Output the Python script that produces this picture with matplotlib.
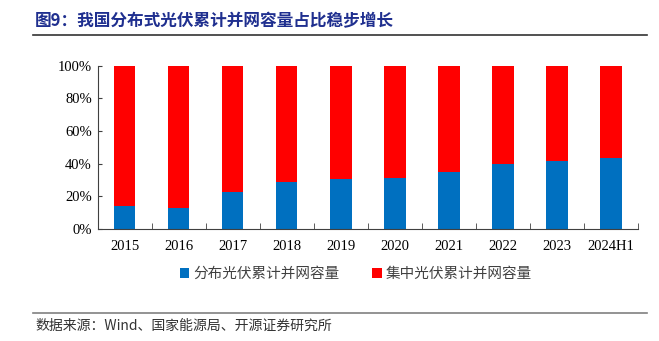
import numpy as np
import matplotlib.pyplot as plt
from matplotlib.lines import Line2D

plt.rcParams['font.family'] = ['Liberation Serif', 'Noto Sans CJK SC', 'DejaVu Sans']

# Data (share of cumulative grid-connected PV capacity, %)
years = ['2015', '2016', '2017', '2018', '2019', '2020', '2021', '2022', '2023', '2024H1']
distributed = [13.9, 13.1, 22.7, 28.8, 30.4, 31.0, 34.9, 40.0, 41.4, 43.3]
centralized = [100 - v for v in distributed]

blue = '#0070C0'
red = '#FF0000'

fig = plt.figure(figsize=(6.59, 3.41), dpi=100)
ax = fig.add_axes([97.5 / 659, 1 - 229 / 341, 540.5 / 659, 163.3 / 341])

x = np.arange(len(years))
ax.bar(x, distributed, width=0.4, color=blue, label='分布光伏累计并网容量')
ax.bar(x, centralized, width=0.4, bottom=distributed, color=red, label='集中光伏累计并网容量')

ax.set_xlim(-0.5, len(years) - 0.5)
ax.set_ylim(0, 100)
ax.set_yticks(np.arange(0, 101, 20))
ax.set_yticklabels([f'{v}%' for v in range(0, 101, 20)], fontsize=10.5)
ax.set_xticks(x)
ax.set_xticklabels(years, fontsize=10.5)
ax.set_xticks(np.arange(-0.5, len(years), 1), minor=True)
ax.tick_params(axis='x', which='major', length=0, pad=8)
ax.tick_params(axis='x', which='minor', direction='in', length=4, color='#404040')
ax.tick_params(axis='y', direction='in', length=3, color='#404040', pad=4)
for s in ['top', 'right']:
    ax.spines[s].set_visible(False)
for s in ['left', 'bottom']:
    ax.spines[s].set_color('#404040')

leg = fig.legend(loc='center', bbox_to_anchor=(356 / 659, 1 - 274 / 341), ncol=2, frameon=False,
                 handlelength=0.65, handleheight=0.65, handletextpad=0.3, columnspacing=2.2,
                 prop={'family': 'Noto Sans CJK SC', 'size': 10.5})
for t in leg.get_texts():
    t.set_color('#404040')

# title and source
fig.text(35 / 659, 1 - 21 / 341, '图9：我国分布式光伏累计并网容量占比稳步增长', fontsize=12,
         fontweight='bold', color='#1F2F8F', family=['Noto Sans CJK SC'], va='center')
fig.add_artist(Line2D([33 / 659, 647 / 659], [1 - 35 / 341] * 2, color='#333333', lw=1.2))
fig.add_artist(Line2D([33 / 659, 647 / 659], [1 - 312.5 / 341] * 2, color='#808080', lw=1.2))
fig.text(35 / 659, 1 - 326 / 341, '数据来源：Wind、国家能源局、开源证券研究所', fontsize=10,
         color='#333333', family=['Noto Sans CJK SC'], va='center')

fig.savefig('out.png', dpi=100)
